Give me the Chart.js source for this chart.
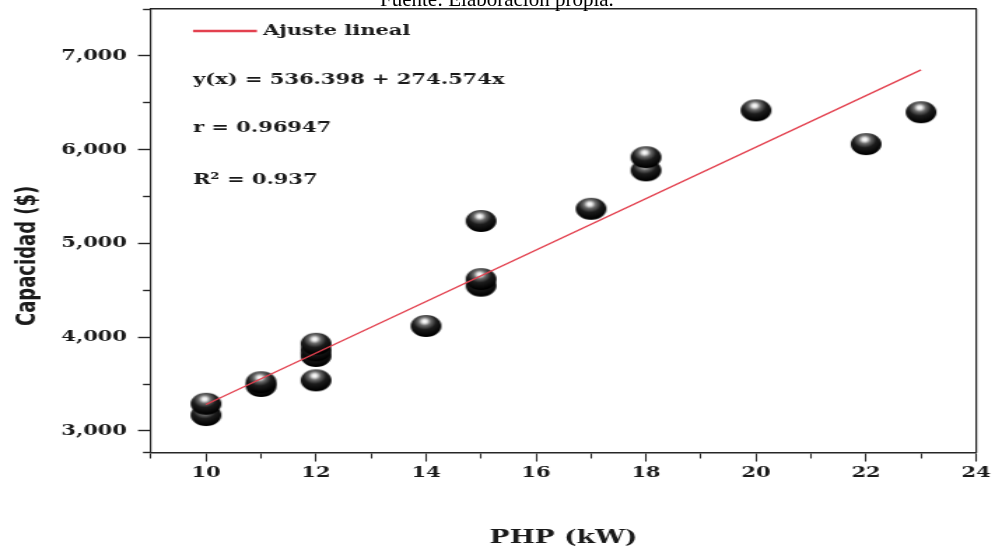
<!DOCTYPE html>
<html>
<head>
<meta charset="utf-8">
<script src="https://cdn.jsdelivr.net/npm/chart.js@4/dist/chart.umd.min.js"></script>
<style>
  html, body { margin: 0; padding: 0; background: #ffffff; overflow: hidden; width: 995px; height: 554px; }
  #wrap { position: absolute; left: 0; top: 0; width: 711px; height: 554px;
          transform: scaleX(1.399437); transform-origin: 0 0; }
  #source { position: absolute; left: 380px; top: -10.6px; white-space: nowrap;
            font: 21px/21px "Liberation Serif", "Times New Roman", serif; color: #000; z-index: 2; }
</style>
</head>
<body>
<div id="wrap"><canvas id="chart"></canvas></div>
<div id="source">Fuente: Elaboración propia.</div>
<script>
// ---- data ----
const php       = [10,   10,   11,   11,   12,   12,   12,   12,   14,   15,   15,   15,   17,   18,   18,   20,   22,   23];
const capacidad = [3170, 3290, 3480, 3520, 3540, 3800, 3860, 3930, 4120, 4550, 4620, 5240, 5370, 5780, 5920, 6420, 6060, 6400];

const fitX = [10, 23];
const fitY = [3282, 6852];

const xMajorTicks = [10, 12, 14, 16, 18, 20, 22, 24];
const xMinorTicks = [9, 11, 13, 15, 17, 19, 21, 23];
const yMajorTicks = [3000, 4000, 5000, 6000, 7000];
const yMinorTicks = [2770, 3500, 4500, 5500, 6500, 7500];

const xRange = [9, 24];
const yRange = [2770, 7500];

const xTitle = 'PHP (kW)';
const yTitle = 'Capacidad ($)';
const legendLabel = 'Ajuste lineal';
const annotationLines = ['y(x) = 536.398 + 274.574x', 'r = 0.96947', 'R\u00B2 = 0.937'];

// ---- styling ----
const AXIS = '#262626';
const TEXT = '#1a1a1a';
const FIT = '#e3414f';
const serifBold = "'DejaVu Serif', serif";

function makeBall(r) {
  const c = document.createElement('canvas');
  const s = Math.ceil(r * 2 + 2);
  c.width = s; c.height = s;
  const g = c.getContext('2d');
  const cx = s / 2, cy = s / 2;
  const hx = cx - 1, hy = cy - r * 0.42;
  const grad = g.createRadialGradient(hx, hy, 0.3, hx, hy, r * 1.35);
  grad.addColorStop(0.00, '#ffffff');
  grad.addColorStop(0.10, '#e6e6e6');
  grad.addColorStop(0.28, '#6a6a6a');
  grad.addColorStop(0.55, '#1c1c1c');
  grad.addColorStop(1.00, '#000000');
  g.fillStyle = grad;
  g.beginPath(); g.arc(cx, cy, r, 0, Math.PI * 2); g.fill();
  return c;
}
const ball = makeBall(11);

const notesPlugin = {
  id: 'notes',
  afterDatasetsDraw(chart) {
    const { ctx, chartArea: { left, top } } = chart;
    ctx.save();
    ctx.strokeStyle = FIT;
    ctx.lineWidth = 2.5;
    ctx.beginPath();
    ctx.moveTo(left + 30, top + 21.9);
    ctx.lineTo(left + 75.7, top + 21.9);
    ctx.stroke();
    ctx.font = 'bold 15px ' + serifBold;
    ctx.fillStyle = TEXT;
    ctx.textBaseline = 'middle';
    ctx.textAlign = 'left';
    ctx.fillText(legendLabel, left + 80, top + 21.9);
    const ys = [70.9, 118.9, 170.9];
    annotationLines.forEach((t, i) => ctx.fillText(t, left + 30, top + ys[i]));
    ctx.restore();
  }
};

const isMajorX = v => xMajorTicks.includes(v);
const isMajorY = v => yMajorTicks.includes(v);
const noPad = s => { s.paddingTop = 0; s.paddingBottom = 0; s.paddingLeft = 0; s.paddingRight = 0; };

new Chart(document.getElementById('chart'), {
  type: 'scatter',
  data: {
    datasets: [
      {
        type: 'line',
        label: legendLabel,
        data: fitX.map((x, i) => ({ x: x, y: fitY[i] })),
        borderColor: FIT,
        borderWidth: 1.3,
        pointRadius: 0,
        fill: false,
        tension: 0,
        order: 1
      },
      {
        type: 'scatter',
        label: 'Datos',
        data: php.map((x, i) => ({ x: x, y: capacidad[i] })),
        pointStyle: ball,
        pointRadius: 11,
        pointHoverRadius: 11,
        order: 2
      }
    ]
  },
  options: {
    responsive: true,
    maintainAspectRatio: false,
    animation: false,
    events: [],
    layout: { autoPadding: false, padding: { left: 0, top: 9.125, right: 13.57, bottom: 0 } },
    plugins: { legend: { display: false }, tooltip: { enabled: false }, title: { display: false } },
    scales: {
      x: {
        type: 'linear', position: 'bottom', min: xRange[0], max: xRange[1],
        afterBuildTicks: s => { s.ticks = xMinorTicks.concat(xMajorTicks).sort((a, b) => a - b).map(v => ({ value: v })); },
        afterFit: s => { s.height = 101.44; noPad(s); },
        grid: {
          drawOnChartArea: false, drawTicks: true, tickLength: 9, tickColor: AXIS, tickWidth: 1.1,
          tickBorderDash: c => (c.tick && isMajorX(c.tick.value)) ? [] : [5, 100],
          tickBorderDashOffset: 0
        },
        border: { display: true, color: AXIS, width: 1.5 },
        ticks: {
          padding: 2.4, color: TEXT, autoSkip: false, maxRotation: 0,
          font: { family: serifBold, size: 15, weight: 'bold' },
          callback: v => isMajorX(v) ? String(v) : ''
        },
        title: {
          display: true, text: xTitle, color: TEXT,
          font: { family: serifBold, size: 19, weight: 'bold' },
          padding: { top: 0, bottom: 4.6 }
        }
      },
      y: {
        type: 'linear', position: 'left', min: yRange[0], max: yRange[1],
        afterBuildTicks: s => { s.ticks = yMinorTicks.concat(yMajorTicks).sort((a, b) => a - b).map(v => ({ value: v })); },
        afterFit: s => { s.width = 107.9; noPad(s); },
        grid: {
          drawOnChartArea: false, drawTicks: true, tickLength: 9.3, tickColor: AXIS, tickWidth: 1.4,
          tickBorderDash: c => (c.tick && isMajorY(c.tick.value)) ? [] : [5.7, 100],
          tickBorderDashOffset: c => (c.tick && isMajorY(c.tick.value)) ? 0 : 102.1
        },
        border: { display: true, color: AXIS, width: 1.2 },
        ticks: {
          padding: 7.9, color: TEXT, autoSkip: false,
          font: { family: serifBold, size: 15, weight: 'bold' },
          callback: v => isMajorY(v) ? v.toLocaleString('en-US') : ''
        },
        title: {
          display: true, text: yTitle + '\u00A0'.repeat(8), color: TEXT,
          font: { family: "'DejaVu Sans Condensed', 'Liberation Sans Narrow', 'DejaVu Sans', sans-serif", size: 20, weight: 'bold' },
          padding: { top: 7.3, bottom: 0 }
        }
      },
      xTop: {
        type: 'linear', position: 'top', min: xRange[0], max: xRange[1],
        afterFit: s => { s.height = 0; noPad(s); },
        ticks: { display: false },
        grid: { drawOnChartArea: false, drawTicks: false },
        border: { display: true, color: AXIS, width: 1.5 }
      },
      yRight: {
        type: 'linear', position: 'right', min: yRange[0], max: yRange[1],
        afterFit: s => { s.width = 0; noPad(s); },
        ticks: { display: false },
        grid: { drawOnChartArea: false, drawTicks: false },
        border: { display: true, color: AXIS, width: 1.2 }
      }
    }
  },
  plugins: [notesPlugin]
});
</script>
</body>
</html>
